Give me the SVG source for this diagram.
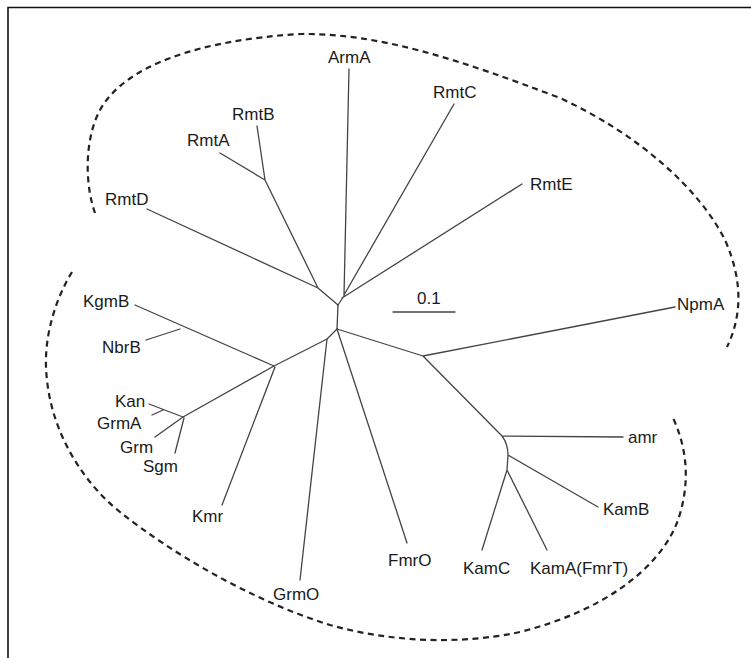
<svg xmlns="http://www.w3.org/2000/svg" width="751" height="658" viewBox="0 0 751 658">
<style>
.frame{stroke:#111;stroke-width:1.6;fill:none}
.br{stroke:#444;stroke-width:1.3;fill:none;stroke-linecap:round;stroke-linejoin:round}
.dash{stroke:#222;stroke-width:2.2;fill:none;stroke-dasharray:6 4.5}
text{font-family:"Liberation Sans",Arial,sans-serif;font-size:17px;fill:#1a1a1a}
</style>
<rect width="751" height="658" fill="#fff"/>
<path class="frame" d="M751,7.5 H8 V658"/>
<g id="clusters">
<path class="dash" d="M95,213 C85,185 84,140 100,110 C125,65 200,40 300,34 C380,33 460,60 560,98 C640,135 700,190 725,240 C745,285 740,320 727,347"/>
<path class="dash" d="M72,272 C55,300 42,340 47,380 C52,430 80,480 120,512 C170,552 250,600 330,625 C390,642 460,645 520,632 C600,612 660,570 678,520 C690,485 688,450 673,418"/>
</g>
<g id="connectors">
<path class="br" d="M349,69 L344,296 M454,104 L344,295 M522,184 L342,298 M344,296 L338,305"/>
<path class="br" d="M338,305 L318,288 L147,209 M318,288 L265,180 L220,153 M265,180 L257,126"/>
<path class="br" d="M338,305 L337,329 L327,339 L274,366 L135,305 M180,329 L146,340"/>
<path class="br" d="M274,366 L183,417 L149,404 M163,410 L152,415 M183,417 L155,437 M184,418 L175,453"/>
<path class="br" d="M275,367 L222,505 M327,339 L300,580 M337,329 L407,543"/>
<path class="br" d="M337,329 L423,356 L675,307 M423,356 L502,436 L623,437 M502,436 Q508,444 508,455 L598,507 M508,455 L507,470 L482,550 M507,470 L547,550"/>
<path class="br" d="M393,312 H455"/>
</g>
<g id="n-ArmA"><text x="328" y="63">ArmA</text></g>
<g id="n-RmtC"><text x="433" y="98">RmtC</text></g>
<g id="n-RmtB"><text x="232" y="120">RmtB</text></g>
<g id="n-RmtA"><text x="187" y="146">RmtA</text></g>
<g id="n-RmtE"><text x="530" y="190">RmtE</text></g>
<g id="n-RmtD"><text x="105" y="205">RmtD</text></g>
<g id="n-NpmA"><text x="677" y="310">NpmA</text></g>
<g id="n-KgmB"><text x="83" y="307">KgmB</text></g>
<g id="n-NbrB"><text x="102" y="353">NbrB</text></g>
<g id="n-Kan"><text x="115" y="407">Kan</text></g>
<g id="n-GrmA"><text x="97" y="429">GrmA</text></g>
<g id="n-Grm"><text x="120" y="453">Grm</text></g>
<g id="n-Sgm"><text x="143" y="472">Sgm</text></g>
<g id="n-Kmr"><text x="192" y="522">Kmr</text></g>
<g id="n-GrmO"><text x="273" y="600">GrmO</text></g>
<g id="n-FmrO"><text x="388" y="566">FmrO</text></g>
<g id="n-KamC"><text x="463" y="574">KamC</text></g>
<g id="n-KamA"><text x="530" y="574">KamA(FmrT)</text></g>
<g id="n-KamB"><text x="603" y="515">KamB</text></g>
<g id="n-amr"><text x="628" y="443">amr</text></g>
<g id="scale"><text x="417" y="304">0.1</text></g>
</svg>
